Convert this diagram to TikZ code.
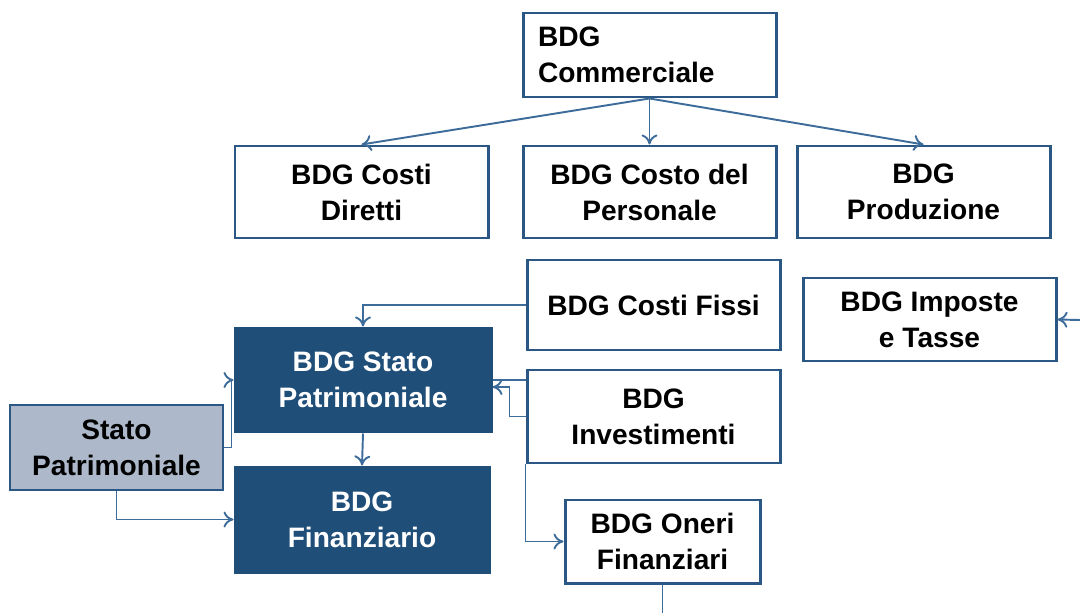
\documentclass[tikz,border=0pt]{standalone}
\usepackage{fontspec}
\setmainfont{Liberation Sans}
\usepackage{tikz}
\usetikzlibrary{arrows.meta, positioning, calc}
\definecolor{edge}{HTML}{2A5783}
\definecolor{wire}{HTML}{3D6C9B}
\definecolor{deep}{HTML}{1F4E79}
\definecolor{pale}{HTML}{ADB9CA}

\tikzset{
  box/.style={draw=edge, line width=1.7pt, fill=white, align=center,
    minimum width=5.06cm, minimum height=1.84cm, inner sep=0pt},
  darkbox/.style={box, fill=deep, draw=deep, text=white},
  conn/.style={draw=wire, line width=1.1pt},
  >={To[length=2mm,width=3.2mm]}
}

\begin{document}
\begin{tikzpicture}[font=\bfseries\fontsize{16}{20.5}\selectfont]
  \useasboundingbox (0,0) rectangle (21.6,12.26);

  % Top level
  \node[box, minimum height=1.68cm, align=left, text width=4.46cm] (comm) at (12.99,11.16) {BDG\\Commerciale};

  % Second row
  \node[box] (dir)  at (7.23,8.42)  {BDG Costi\\Diretti};
  \node[box] (pers) at (12.99,8.42) {BDG Costo del\\Personale};
  \node[box] (prod) at (18.47,8.42) {BDG\\Produzione};

  % Right column
  \node[box, minimum height=1.8cm]  (fissi) at (13.07,6.16) {BDG Costi Fissi};
  \node[box, minimum height=1.66cm] (imp)   at (18.59,5.87) {BDG Imposte\\e Tasse};
  \node[box, minimum height=1.86cm] (inv)   at (13.07,3.93) {BDG\\Investimenti};
  \node[box, minimum width=3.9cm, minimum height=1.66cm] (one) at (13.25,1.43) {BDG Oneri\\Finanziari};

  % Balance sheet blocks
  \node[darkbox, minimum width=5.12cm, minimum height=2.08cm] (bsp) at (7.26,4.66) {BDG Stato\\Patrimoniale};
  \node[darkbox, minimum width=5.08cm, minimum height=2.1cm]  (fin) at (7.24,1.87) {BDG\\Finanziario};
  \node[box, fill=pale, minimum width=4.26cm, minimum height=1.7cm] (sp) at (2.33,3.31) {Stato\\Patrimoniale};

  % Free ends at the page border
  \coordinate (impin)  at (21.6,5.86);
  \coordinate (oneout) at (13.25,0);

  % Connectors
  \draw[conn, ->] (comm.south) -- (dir.north);
  \draw[conn, ->] (comm.south) -- (pers.north);
  \draw[conn, ->] (comm.south) -- (prod.north);
  \draw[conn, ->] (fissi.west) -| (bsp.north);
  \draw[conn] (inv.west |- bsp.east) -- (bsp.east);
  \draw[conn, ->] (inv.west) -- ++(-0.32,0) |- ([yshift=-0.14cm]bsp.east);
  \draw[conn, ->] (inv.south west) |- (one.west);
  \draw[conn, ->] (sp.east) -- ++(0.14,0) |- (bsp.west);
  \draw[conn, ->] (sp.south) |- (fin.west);
  \draw[conn, ->] (bsp.south) -- (fin.north);
  \draw[conn] (one.south) -- (oneout);
  \draw[conn, ->] (impin) -- (imp.east);
\end{tikzpicture}
\end{document}
